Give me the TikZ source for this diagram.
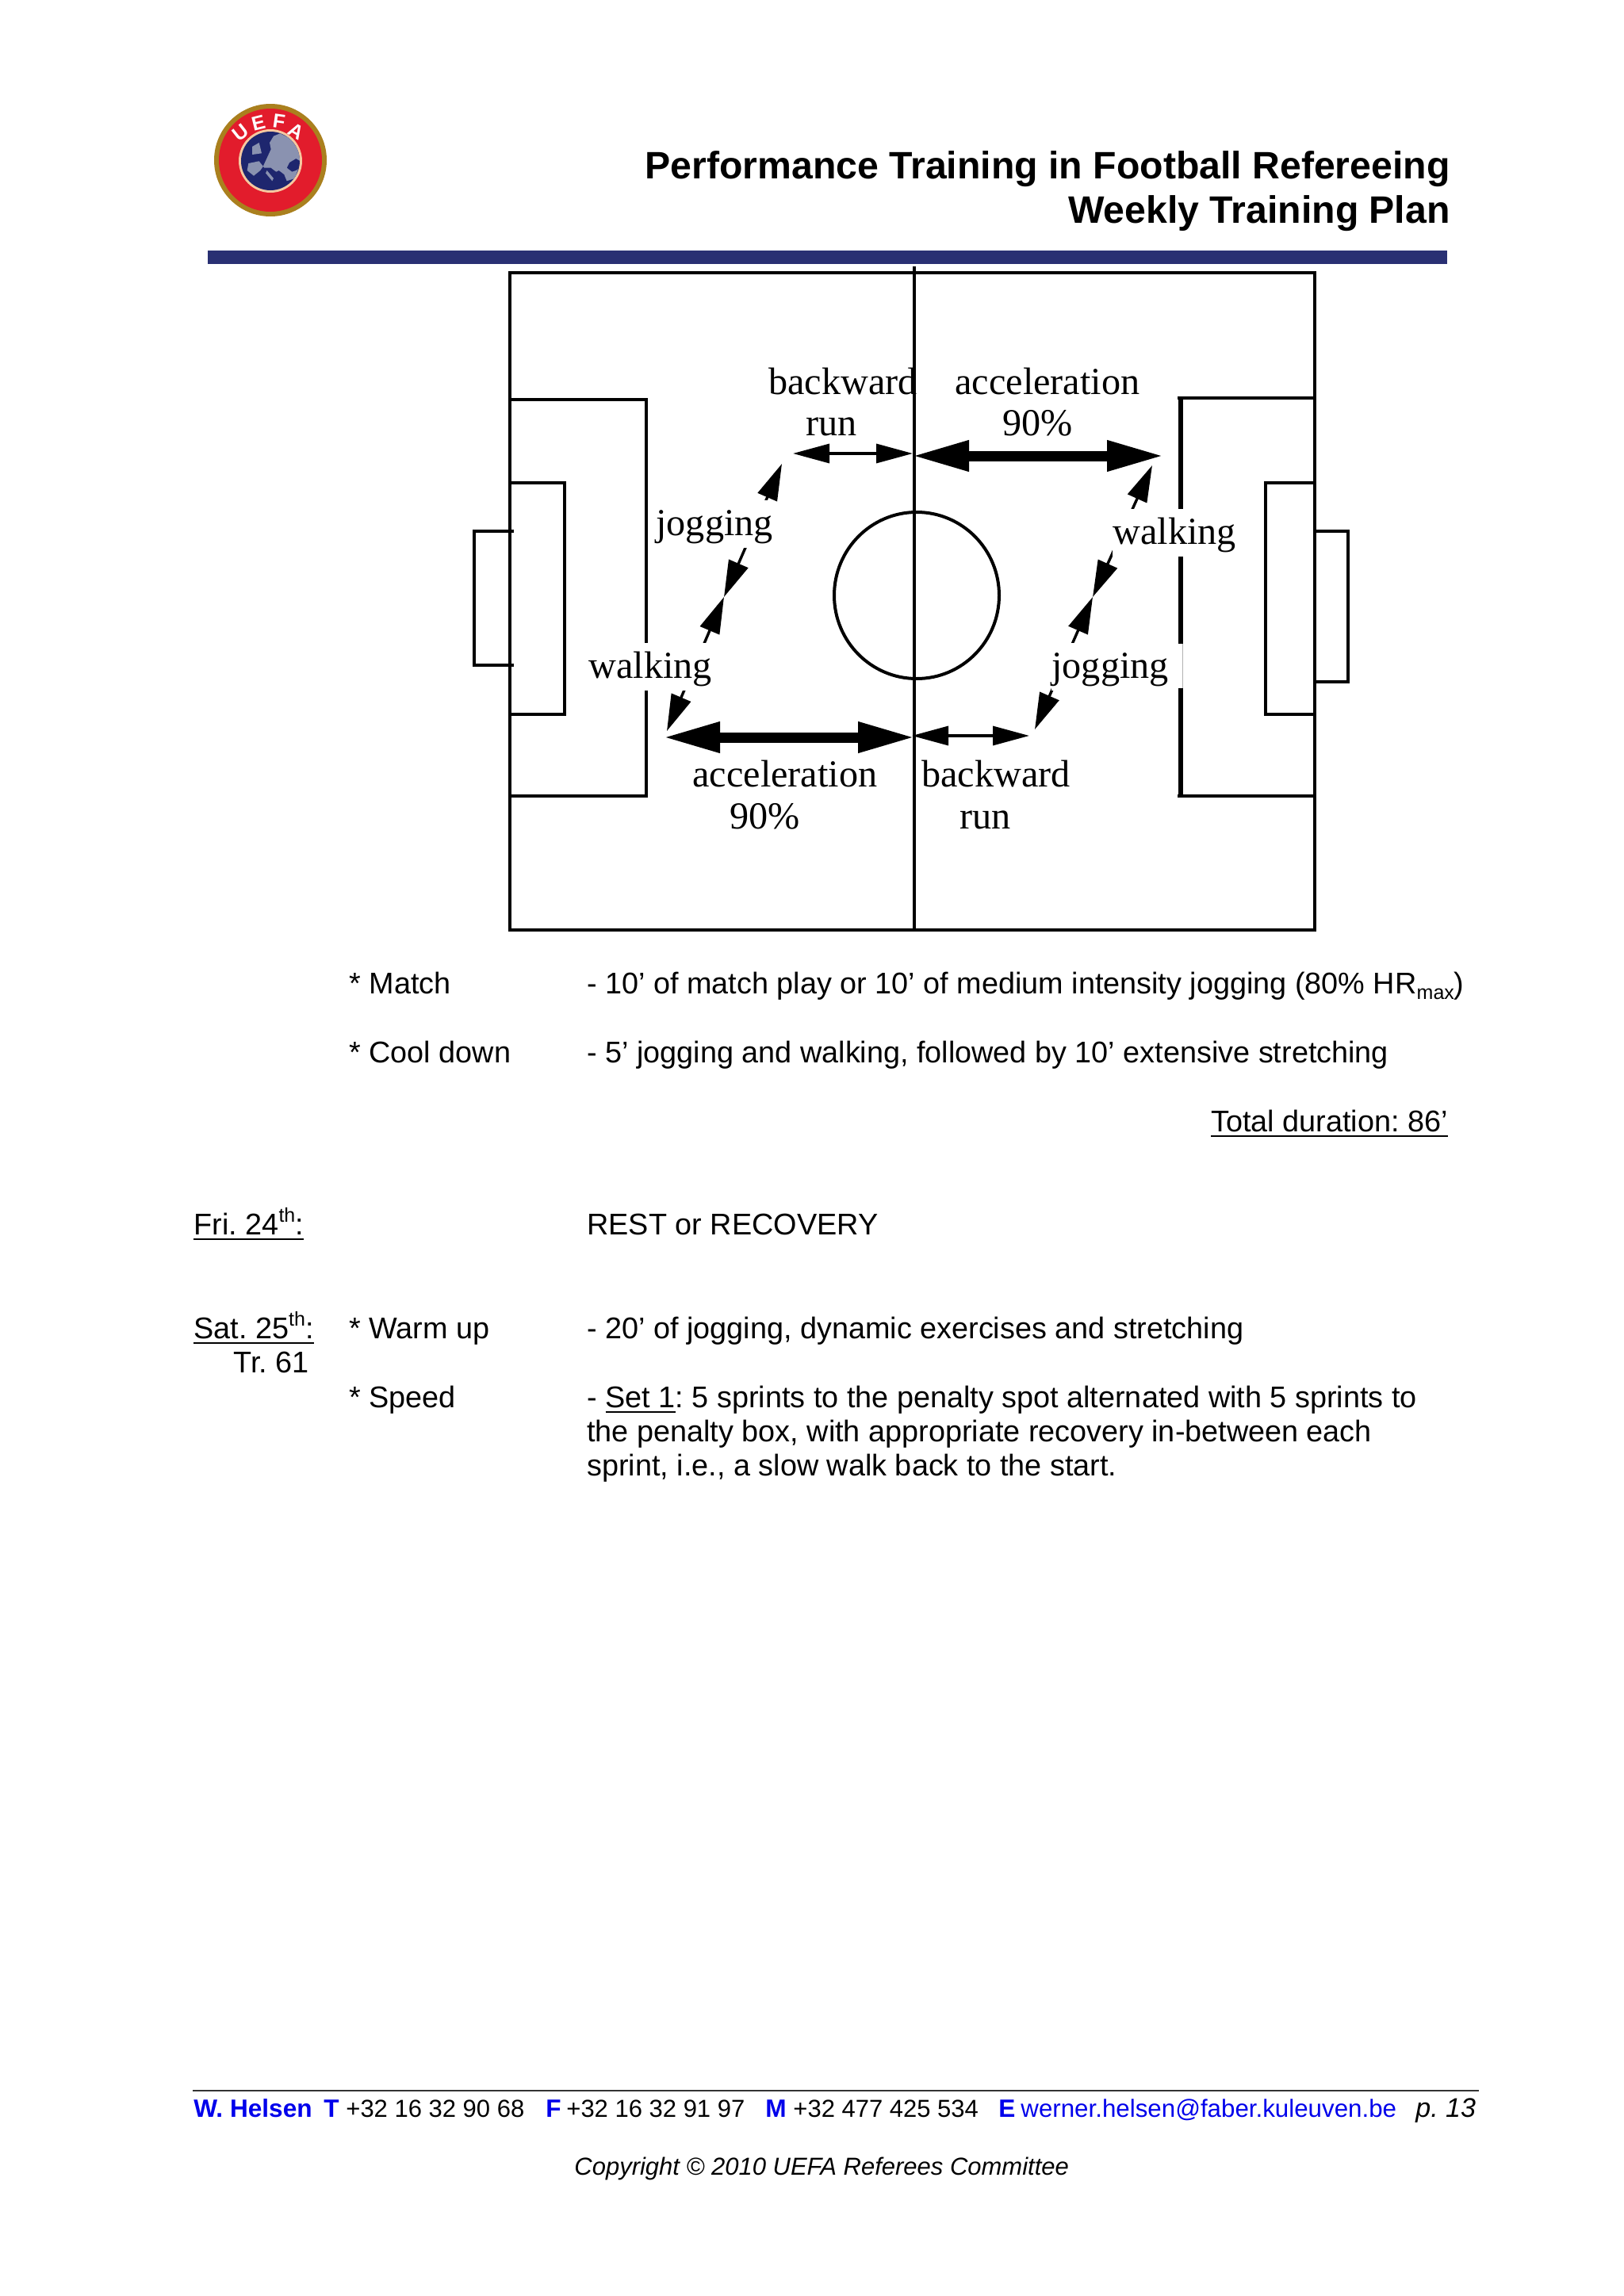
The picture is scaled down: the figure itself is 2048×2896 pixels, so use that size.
\documentclass[tikz,border=0pt]{standalone}
\usepackage{fontspec}
\setmainfont{Liberation Sans}
\newfontfamily\pitchfont{Liberation Serif}
\usetikzlibrary{arrows.meta}
\definecolor{navybar}{RGB}{41,48,115}
\definecolor{logored}{RGB}{226,28,44}
\definecolor{logogold}{RGB}{170,128,30}
\definecolor{logonavy}{RGB}{30,38,110}
\definecolor{logoland}{RGB}{138,146,176}
\definecolor{logocream}{RGB}{245,200,160}
\definecolor{footblue}{RGB}{0,0,235}
\frenchspacing
\newcommand{\ulin}[1]{{\setbox0=\hbox{#1}\leavevmode\copy0\kern-\wd0\vrule height -2.4pt depth 3.6pt width \wd0\relax}}
\newcommand{\supth}{\raisebox{0.42em}{\fontsize{12.5pt}{14pt}\selectfont th}}
\tikzset{
  x=0.5pt,y=-0.5pt,
  body/.style={anchor=base west,inner sep=0pt,font=\fontsize{18.9pt}{21.75pt}\selectfont},
  bodyr/.style={body,anchor=base east},
  ptitle/.style={anchor=base east,inner sep=0pt,font=\fontsize{24.1pt}{28pt}\selectfont\bfseries},
  foot/.style={anchor=base west,inner sep=0pt,font=\fontsize{15.5pt}{18pt}\selectfont},
  footb/.style={foot,text=footblue,font=\fontsize{15.8pt}{18pt}\selectfont\bfseries},
  footi/.style={foot,font=\fontsize{15.5pt}{18pt}\selectfont\itshape},
  fieldlab/.style={anchor=base west,inner sep=0pt,font=\fontsize{24.1pt}{28pt}\selectfont\pitchfont},
  fieldmask/.style={fieldlab,fill=white,text height=22pt,text depth=8pt},
  pitch/.style={draw=black,line width=2pt,line cap=rect},
  fastarrow/.style={line width=6.5pt,{Triangle[length=36pt,width=18pt]}-{Triangle[length=36pt,width=18pt]}},
  slowarrow/.style={line width=1.7pt,{Triangle[length=23pt,width=12pt]}-{Triangle[length=23pt,width=12pt]}},
  diagarrow/.style={line width=1.7pt,{Triangle[length=23pt,width=13pt]}-{Triangle[length=23pt,width=13pt]}},
  logoletter/.style={inner sep=0pt,text=white,font=\fontsize{12.5pt}{15pt}\selectfont\bfseries},
}
\begin{document}
\begin{tikzpicture}
\path[use as bounding box,fill=white] (0,0) rectangle (2048,2896);

% logo
\fill[logogold] (341,202) circle[radius=71];
\fill[logored] (341,202) circle[radius=65];
\fill[logocream] (341,203) circle[radius=40];
\fill[logonavy] (341,203) circle[radius=37];
\begin{scope}
\clip (341,203) circle[radius=37];
\fill[logoland] (341.7,188.3) -- (340,180) -- (345,171.7) -- (353.3,168.3) -- (366.7,175) -- (376.7,190) -- (379,203.3) -- (373.3,200) -- (365,205) -- (361.7,211.7) -- (368.3,216.7) -- (373.3,215) -- (376,213.3) -- (371.7,225) -- (361.7,228.3) -- (358.3,220) -- (351.7,215) -- (348.3,216.7) -- (341.7,211.7) -- (333.3,211.7) -- (326.7,203.3) -- (313.3,206) -- (311.7,215) -- (320,221.7) -- (328.3,215) -- (331.7,210) -- cycle;
\fill[logoland] (318,185) -- (326.7,180) -- (330,193.3) -- (318,195) -- cycle;
\fill[logoland] (336.7,215) -- (345,225) -- (343.3,228.3) -- (335,218.3) -- cycle;
\end{scope}
\node[logoletter,rotate=38] (lu) at (303,167) {U};
\node[logoletter,rotate=14] (le) at (326,155) {E};
\node[logoletter,rotate=-8] (lf) at (352,153) {F};
\node[logoletter,rotate=-30] (la) at (374,166) {A};

% header
\node[ptitle] (t1) at (1829,225) {Performance Training in Football Refereeing};
\node[ptitle] (t2) at (1829,281) {Weekly Training Plan};
\fill[navybar] (262,316) rectangle (1825,333);

% pitch outline
\draw[pitch] (643,344) rectangle (1658,1173);
\draw[pitch] (1153,338) -- (1153,1173);
\draw[pitch] (1156,751) ellipse[x radius=104,y radius=105];
% left boxes
\draw[pitch,line cap=butt] (643,504) -- (815,504) -- (815,1003.5) -- (643,1003.5);
\draw[pitch,line cap=butt] (643,609) -- (712,609) -- (712,901) -- (643,901);
\draw[pitch,line cap=butt] (648,670) -- (598,670) -- (598,839) -- (648,839);
% right boxes
\draw[pitch,line cap=butt] (1485,502) -- (1658,502);
\draw[pitch,line cap=butt] (1485,1003.5) -- (1658,1003.5);
\draw[pitch,line cap=butt,line width=2.6pt] (1489,502) -- (1489,812);
\draw[draw=black!30,line width=0.5pt] (1491,812) -- (1491,868);
\draw[pitch,line cap=butt,line width=2.6pt] (1489,868) -- (1489,1003.5);
\draw[pitch,line cap=butt] (1658,609) -- (1596,609) -- (1596,901) -- (1658,901);
\draw[pitch,line cap=butt] (1658,670) -- (1700,670) -- (1700,860) -- (1658,860);

% arrows
\coordinate (ta) at (1150,575); \coordinate (tb) at (1468,575);
\coordinate (tc) at (1000,572); \coordinate (td) at (1151,572);
\coordinate (ba) at (836,930);  \coordinate (bb) at (1154,930);
\coordinate (bc) at (1150,928); \coordinate (bd) at (1298,928);
\coordinate (l1) at (986,585);  \coordinate (l2) at (913,753); \coordinate (l3) at (841,922);
\coordinate (r1) at (1453,587); \coordinate (r2) at (1378,753); \coordinate (r3) at (1305,920);
\draw[fastarrow] (ta) -- (tb);
\draw[fastarrow] (ba) -- (bb);
\draw[slowarrow] (tc) -- (td);
\draw[slowarrow] (bc) -- (bd);
\draw[diagarrow] (l1) -- (l2);
\draw[diagarrow] (l2) -- (l3);
\draw[diagarrow] (r1) -- (r2);
\draw[diagarrow] (r2) -- (r3);

% pitch labels
\node[fieldlab] (f1) at (969,497) {backward};
\node[fieldlab] (f2) at (1016,549) {run};
\node[fieldlab] (f3) at (1204,497) {acceleration};
\node[fieldlab] (f4) at (1264,549) {90\%};
\node[fieldmask] (f5) at (827,675) {jogging};
\node[fieldmask] (f6) at (742,855) {walking};
\node[fieldmask] (f7) at (1403,686) {walking};
\node[fieldmask] (f8) at (1326,855) {jogging};
\node[fieldlab] (f9) at (873,992) {acceleration};
\node[fieldlab] (f10) at (920,1045) {90\%};
\node[fieldlab] (f11) at (1162,992) {backward};
\node[fieldlab] (f12) at (1210,1045) {run};

% body
\node[body] (a1) at (440,1253) {* Match};
\node[body] (a2) at (740,1253) {- 10’ of match play or 10’ of medium intensity jogging (80\% HR\raisebox{-0.2em}{\fontsize{12.5pt}{14pt}\selectfont max})};
\node[body] (b1) at (440,1340) {* Cool down};
\node[body] (b2) at (740,1340) {- 5’ jogging and walking, followed by 10’ extensive stretching};
\node[bodyr] (c1) at (1826,1427) {\ulin{Total duration: 86’}};
\node[body] (d1) at (244,1557) {\ulin{Fri. 24\supth:}};
\node[body] (d2) at (740,1557) {REST or RECOVERY};
\node[body] (e1) at (244,1688) {\ulin{Sat. 25\supth:}};
\node[body] (e2) at (440,1688) {* Warm up};
\node[body] (e3) at (740,1688) {- 20’ of jogging, dynamic exercises and stretching};
\node[bodyr] (g1) at (390,1731) {Tr. 61};
\node[body] (h1) at (440,1775) {* Speed};
\node[body] (h2) at (740,1775) {- \ulin{Set 1}: 5 sprints to the penalty spot alternated with 5 sprints to};
\node[body] (h3) at (740,1818) {the penalty box, with appropriate recovery in-between each};
\node[body] (h4) at (740,1861) {sprint, i.e., a slow walk back to the start.};

% footer
\draw[line width=1.2pt,draw=black!80] (243,2637) -- (1865,2637);
\node[footb] (p1) at (244,2670) {W. Helsen};
\node[footb] (p2) at (408,2670) {T};
\node[foot] (p3) at (436,2670) {+32 16 32 90 68};
\node[footb] (p4) at (688,2670) {F};
\node[foot] (p5) at (714,2670) {+32 16 32 91 97};
\node[footb] (p6) at (965,2670) {M};
\node[foot] (p7) at (1000,2670) {+32 477 425 534};
\node[footb] (p8) at (1259,2670) {E};
\node[foot,text=footblue,font=\fontsize{15.65pt}{18pt}\selectfont] (p9) at (1287,2670) {werner.helsen@faber.kuleuven.be};
\node[footi,font=\fontsize{17pt}{20pt}\selectfont\itshape] (p10) at (1785,2670) {p. 13};
\node[footi] (p11) at (724,2743) {Copyright © 2010 UEFA Referees Committee};
\end{tikzpicture}
\end{document}
